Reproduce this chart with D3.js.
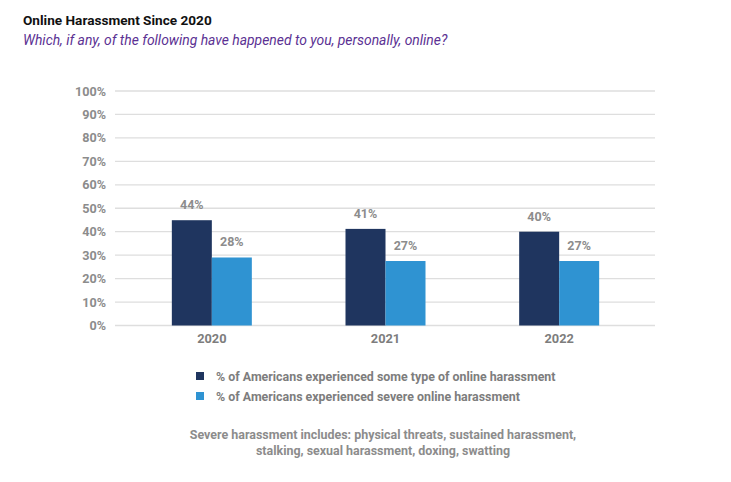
<!DOCTYPE html>
<html>
<head>
<meta charset="utf-8">
<script src="https://cdn.jsdelivr.net/npm/d3@7"></script>
<style>
  body { margin: 0; background: #fff; font-family: Roboto, "Noto Sans", sans-serif; }
  svg text { font-family: Roboto, "Noto Sans", sans-serif; }
</style>
</head>
<body>
<svg id="chart" width="731" height="482"></svg>
<script>
const years = ["2020", "2021", "2022"];
const someHarassment = [44.9, 41.2, 40.0];
const severeHarassment = [29.0, 27.5, 27.5];
const someLabels = ["44%", "41%", "40%"];
const severeLabels = ["28%", "27%", "27%"];
const yTicks = [0, 10, 20, 30, 40, 50, 60, 70, 80, 90, 100];
const seriesNames = [
  "% of Americans experienced some type of online harassment",
  "% of Americans experienced severe online harassment"
];
const colors = ["#1f355f", "#2f93d2"];

const svg = d3.select("#chart");

// titles
svg.append("text").attr("x", 23).attr("y", 25)
  .attr("font-size", 13.6).attr("font-weight", "bold").attr("fill", "#111")
  .text("Online Harassment Since 2020");
svg.append("text").attr("x", 23).attr("y", 45)
  .attr("font-size", 13.9).attr("font-style", "italic").attr("fill", "#5b3193")
  .text("Which, if any, of the following have happened to you, personally, online?");

const y = d3.scaleLinear().domain([0, 100]).range([325.5, 91]);
const x = d3.scaleBand().domain(years).range([125, 646]);
const barW = 40;

// gridlines
svg.append("g").selectAll("line").data(yTicks).join("line")
  .attr("x1", 115).attr("x2", 655)
  .attr("y1", d => y(d)).attr("y2", d => y(d))
  .attr("stroke", "#dedede").attr("stroke-width", 1.3);

// y axis labels
const yAxis = svg.append("g").attr("transform", "translate(106,0)")
  .call(d3.axisLeft(y).tickValues(yTicks).tickFormat(d => d + "%").tickSize(0).tickPadding(0));
yAxis.select(".domain").remove();
yAxis.selectAll("text").attr("font-size", 12.6).attr("font-weight", "bold")
  .attr("fill", "#8c8c8c").attr("font-family", "Roboto, sans-serif");

// x axis labels
const xAxis = svg.append("g").attr("transform", "translate(0,331)")
  .call(d3.axisBottom(x).tickSize(0).tickPadding(3));
xAxis.select(".domain").remove();
xAxis.selectAll("text").attr("font-size", 12.8).attr("font-weight", "bold")
  .attr("fill", "#7d7d7d").attr("font-family", "Roboto, sans-serif");

const series = [someHarassment, severeHarassment];
const labels = [someLabels, severeLabels];

series.forEach((vals, s) => {
  const g = svg.append("g");
  g.selectAll("rect").data(vals).join("rect")
    .attr("x", (d, i) => x(years[i]) + x.bandwidth() / 2 - barW + s * barW)
    .attr("y", d => y(d))
    .attr("width", barW)
    .attr("height", d => y(0) - y(d))
    .attr("fill", colors[s]);
  g.selectAll("text").data(vals).join("text")
    .attr("x", (d, i) => x(years[i]) + x.bandwidth() / 2 - barW / 2 + s * barW)
    .attr("y", d => y(d) - 11)
    .attr("text-anchor", "middle")
    .attr("font-size", 12.5).attr("font-weight", "bold").attr("fill", "#8c8c8c")
    .text((d, i) => labels[s][i]);
});

// legend
const legend = svg.append("g");
seriesNames.forEach((name, i) => {
  legend.append("rect").attr("x", 196).attr("y", 372 + i * 20)
    .attr("width", 8).attr("height", 8).attr("fill", colors[i]);
  legend.append("text").attr("x", 216).attr("y", 381 + i * 20)
    .attr("font-size", 12.4).attr("font-weight", "bold").attr("fill", "#7d7d7d")
    .text(name);
});

// footnote
const notes = ["Severe harassment includes: physical threats, sustained harassment,",
  "stalking, sexual harassment, doxing, swatting"];
svg.append("g").selectAll("text").data(notes).join("text")
  .attr("x", 383).attr("y", (d, i) => 438.5 + i * 16)
  .attr("text-anchor", "middle")
  .attr("font-size", 12.45).attr("font-weight", "bold").attr("fill", "#8c8c8c")
  .text(d => d);
</script>
</body>
</html>
